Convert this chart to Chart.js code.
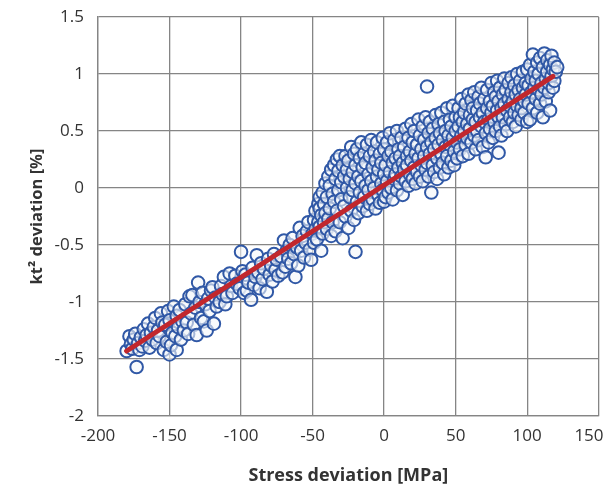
<!DOCTYPE html>
<html>
<head>
<meta charset="utf-8">
<script src="https://cdn.jsdelivr.net/npm/chart.js@4/dist/chart.umd.min.js"></script>
<style>
  html, body { margin: 0; padding: 0; background: #fff; }
  #wrap { width: 607px; height: 488px; }
</style>
</head>
<body>
<div id="wrap"><canvas id="scatterChart"></canvas></div>
<script>
// axis ranges and ticks
var xTicks = [-200, -150, -100, -50, 0, 50, 100, 150];
var yTicks = [-2, -1.5, -1, -0.5, 0, 0.5, 1, 1.5];

// measured points [stress deviation MPa, kt2 deviation %]
var samples = [
  [-180,-1.43],[-178,-1.30],[-177,-1.37],[-176,-1.41],[-175,-1.33],[-174,-1.28],[-173,-1.57],[-172,-1.36],
  [-171,-1.42],[-170,-1.31],[-169,-1.39],[-168,-1.24],[-167,-1.34],[-166,-1.29],[-165,-1.19],[-164,-1.40],
  [-163,-1.27],[-162,-1.33],[-161,-1.22],[-160,-1.14],[-159,-1.36],[-158,-1.25],[-157,-1.30],[-156,-1.10],
  [-155,-1.18],[-154,-1.42],[-153,-1.20],[-152,-1.35],[-151,-1.08],[-150,-1.46],[-150,-1.16],[-149,-1.38],
  [-148,-1.27],[-147,-1.04],[-146,-1.30],[-145,-1.12],[-145,-1.42],[-144,-1.22],[-143,-1.07],[-142,-1.33],
  [-141,-1.17],[-140,-1.25],
  [-139,-1.02],[-138,-1.18],[-137,-1.28],[-136,-0.95],[-135,-1.10],[-134,-0.94],[-133,-1.20],[-132,-1.05],
  [-131,-1.29],[-130,-0.83],[-129,-1.00],[-128,-1.14],[-127,-0.92],[-126,-1.17],[-125,-1.02],[-124,-1.25],
  [-123,-0.97],[-122,-1.08],[-121,-0.90],[-120,-0.87],[-119,-1.19],[-118,-0.96],[-117,-1.04],[-115,-1.00],
  [-114,-0.86],[-113,-0.93],[-112,-0.78],[-111,-1.02],[-110,-0.95],[-108,-0.75],[-107,-0.86],[-106,-0.92],
  [-104,-0.77],[-103,-0.84],[-101,-0.88],[-100,-0.56],[-99,-0.73],
  [-98,-0.92],[-97,-0.76],[-96,-0.90],[-95,-0.83],[-93,-0.98],[-92,-0.70],[-91,-0.85],[-90,-0.78],
  [-89,-0.59],[-88,-0.74],[-87,-0.88],[-86,-0.66],[-85,-0.80],[-84,-0.71],[-82,-0.91],[-81,-0.62],
  [-80,-0.76],[-79,-0.68],[-78,-0.82],[-77,-0.58],[-76,-0.72],[-75,-0.63],[-74,-0.77],[-72,-0.60],
  [-71,-0.74],[-70,-0.46],[-69,-0.69],[-68,-0.55],[-67,-0.62],[-66,-0.50],[-65,-0.66],[-64,-0.44],
  [-63,-0.58],[-62,-0.78],[-61,-0.52],[-60,-0.68],[-59,-0.35],[-58,-0.55],[-57,-0.42],[-56,-0.61],
  [-55,-0.48],[-54,-0.38],[-53,-0.30],[-52,-0.54],[-51,-0.63],[-50,-0.40],
  [-49,-0.28],[-49,-0.48],[-48,-0.20],[-48,-0.36],[-47,-0.45],[-46,-0.14],[-46,-0.30],[-45,-0.08],
  [-45,-0.34],[-45,-0.18],[-44,-0.55],[-44,-0.24],[-43,-0.04],[-43,-0.40],[-42,-0.14],[-42,-0.30],
  [-41,0.04],[-41,-0.22],[-40,-0.36],[-40,-0.08],[-39,0.10],[-39,-0.27],[-38,0.02],[-38,-0.18],
  [-37,-0.42],[-37,0.16],[-36,-0.05],[-36,-0.30],[-35,0.20],[-35,-0.12],[-34,0.08],[-34,-0.38],
  [-33,0.25],[-33,-0.20],[-32,-0.02],[-32,0.15],[-31,-0.30],[-31,0.28],[-30,-0.10],[-30,0.05],
  [-29,-0.44],[-29,0.20],[-28,-0.16],[-28,0.10],[-27,0.28],[-27,-0.25],[-26,0.00],[-26,0.16],
  [-25,-0.35],[-25,0.24],[-24,-0.08],[-24,0.08],[-23,0.36],[-23,-0.20],[-22,0.14],[-22,-0.02],
  [-21,0.30],[-21,-0.28],[-20,-0.56],[-20,0.04],[-20,0.20],
  [-19,-0.12],[-19,0.34],[-18,0.10],[-18,-0.22],[-17,0.26],[-17,-0.04],[-16,0.40],[-16,0.06],
  [-15,-0.16],[-15,0.18],[-14,0.30],[-14,-0.08],[-13,0.02],[-13,0.22],[-12,-0.20],[-12,0.38],
  [-11,0.12],[-11,-0.02],[-10,0.28],[-10,-0.14],[-9,0.06],[-9,0.42],[-8,-0.10],[-8,0.18],
  [-7,0.32],[-7,0.00],[-6,-0.18],[-6,0.24],[-5,0.10],[-5,0.40],[-4,-0.06],[-4,0.16],
  [-3,0.30],[-3,-0.13],[-2,0.04],[-2,0.22],[-1,0.44],[-1,-0.02],[0,0.12],[0,-0.12],[0,0.34],
  [1,0.20],[1,-0.08],[2,0.40],[2,0.06],[3,0.28],[3,-0.04],[4,0.14],[4,0.48],
  [5,0.00],[5,0.32],[6,0.22],[6,-0.10],[7,0.08],[7,0.42],[8,0.26],[8,0.12],
  [9,-0.02],[9,0.50],[10,0.18],[10,0.34],[11,0.04],[11,0.28],[12,0.44],[12,0.10],
  [13,0.22],[13,-0.06],[14,0.36],[14,0.16],[15,0.52],[15,0.06],[16,0.28],[16,0.20],
  [17,0.02],[17,0.44],[18,0.32],[18,0.12],[19,0.56],[19,0.24],[20,0.08],[20,0.40],
  [21,0.18],[21,0.50],[22,0.30],[22,0.04],[23,0.38],[23,0.14],[24,0.60],[24,0.26],
  [25,0.10],[25,0.46],[26,0.34],[26,0.20],[27,0.54],[27,0.06],[28,0.28],[28,0.42],
  [29,0.16],[29,0.62],[30,0.89],[30,0.36],[30,0.22],[31,0.10],[31,0.48],[32,0.30],
  [32,0.58],[33,-0.04],[33,0.40],[34,0.20],[34,0.52],[35,0.34],[35,0.14],[36,0.64],
  [36,0.44],[37,0.26],[37,0.08],[38,0.56],[38,0.38],[39,0.18],[39,0.48],[40,0.30],
  [40,0.66],[41,0.42],[41,0.22],[42,0.58],[42,0.12],[43,0.36],[43,0.50],[44,0.28],
  [44,0.70],[45,0.46],[45,0.18],[46,0.60],[46,0.38],[47,0.24],[47,0.54],[48,0.44],
  [48,0.72],[49,0.32],[49,0.20],[50,0.62],[50,0.50],
  [51,0.40],[51,0.26],[52,0.70],[52,0.54],[53,0.34],[53,0.62],[54,0.46],[54,0.78],
  [55,0.28],[55,0.58],[56,0.50],[56,0.66],[57,0.38],[57,0.74],[58,0.56],[58,0.44],
  [59,0.82],[59,0.30],[60,0.64],[60,0.52],[61,0.77],[61,0.40],[62,0.60],[62,0.70],
  [63,0.46],[63,0.84],[64,0.34],[64,0.58],[65,0.68],[65,0.50],[66,0.80],[66,0.42],
  [67,0.62],[67,0.74],[68,0.54],[68,0.88],[69,0.36],[69,0.66],[70,0.58],[70,0.78],
  [71,0.27],[71,0.48],[72,0.70],[72,0.86],[73,0.60],[73,0.40],[74,0.76],[74,0.52],
  [75,0.92],[75,0.66],[76,0.44],[76,0.72],[77,0.84],[77,0.58],[78,0.50],[78,0.80],
  [79,0.68],[79,0.94],[80,0.31],[80,0.62],[80,0.76],[81,0.54],[81,0.88],[82,0.70],
  [82,0.46],[83,0.82],[83,0.62],[84,0.96],[84,0.74],[85,0.56],[85,0.86],[86,0.68],
  [86,0.50],[87,0.78],[87,0.92],[88,0.62],[88,0.72],[89,0.97],[89,0.84],[90,0.58],
  [90,0.76],[91,0.90],[91,0.66],[92,0.82],[92,0.54],[93,1.00],[93,0.72],[94,0.86],
  [94,0.64],[95,0.78],[95,0.94],[96,0.60],[96,0.70],[97,0.88],[97,1.02],[98,0.76],
  [98,0.66],[99,0.92],[99,0.82],[100,0.58],[100,1.04],
  [101,0.74],[101,0.90],[102,0.60],[102,1.08],[103,0.84],[103,0.96],[104,1.17],[104,0.70],
  [105,0.88],[105,1.02],[106,0.78],[106,0.94],[107,1.10],[107,0.66],[108,0.86],[108,1.00],
  [109,0.74],[109,1.14],[110,0.92],[110,0.82],[111,0.62],[111,1.06],[112,1.18],[112,0.88],
  [113,0.96],[113,0.76],[114,1.12],[114,1.02],[115,0.84],[115,0.92],[116,0.68],[116,1.08],
  [117,1.16],[117,0.98],[118,0.88],[118,1.04],[119,1.10],[119,0.94],[120,1.02],[121,1.06]
];

// regression line end points
var fitX = [-180, 118];
var fitY = [-1.43, 0.98];

var textColor = '#333333';
var gridColor = '#858585';

var ctx = document.getElementById('scatterChart').getContext('2d');
var chart = new Chart(ctx, {
    type: 'scatter',
    data: {
        datasets: [{
            label: 'Fit',
            type: 'line',
            data: fitX.map(function (x, i) { return { x: x, y: fitY[i] }; }),
            borderColor: '#c1272d',
            borderWidth: 5,
            pointRadius: 0,
            borderCapStyle: 'round',
            order: 0
        }, {
            label: 'Samples',
            data: samples.map(function (p) { return { x: p[0], y: p[1] }; }),
            borderColor: '#3058a6',
            backgroundColor: 'rgba(244,246,250,0.6)',
            borderWidth: 2,
            pointRadius: 6.3,
            order: 1
        }]
    },
    options: {
        responsive: true,
        maintainAspectRatio: false,
        animation: false,
        layout: {
            padding: { left: 0, right: 6, top: 17, bottom: 0 }
        },
        plugins: {
            legend: { display: false },
            tooltip: { enabled: false }
        },
        scales: {
            x: {
                type: 'linear',
                min: -200,
                max: 150,
                afterBuildTicks: function (scale) {
                    scale.ticks = xTicks.map(function (v) { return { value: v }; });
                },
                afterFit: function (scale) {
                    scale.height = 72;
                    scale.paddingLeft = 0;
                    scale.paddingRight = 0;
                },
                ticks: {
                    color: textColor,
                    font: { family: 'Open Sans', size: 17 },
                    padding: 10,
                    maxRotation: 0,
                    callback: function (v) {
                        // last label sits inside the frame like the original
                        return v === 150 ? '150\u2007\u2007' : String(v);
                    }
                },
                grid: { color: gridColor, lineWidth: 1.3, drawTicks: false },
                border: { color: gridColor, width: 1.3 },
                title: {
                    display: true,
                    text: 'Stress deviation [MPa]',
                    color: textColor,
                    font: { family: 'Open Sans', size: 18, weight: 'bold' },
                    padding: { top: 0, bottom: 1 }
                }
            },
            y: {
                type: 'linear',
                min: -2,
                max: 1.5,
                afterBuildTicks: function (scale) {
                    scale.ticks = yTicks.map(function (v) { return { value: v }; });
                },
                afterFit: function (scale) {
                    scale.width = 98;
                    scale.paddingTop = 0;
                    scale.paddingBottom = 0;
                },
                ticks: {
                    color: textColor,
                    font: { family: 'Open Sans', size: 17 },
                    padding: 14,
                    callback: function (v) { return String(v); }
                },
                grid: { color: gridColor, lineWidth: 1.3, drawTicks: false },
                border: { color: gridColor, width: 1.3 },
                title: {
                    display: true,
                    text: 'kt² deviation [%]',
                    color: textColor,
                    font: { family: 'Open Sans', size: 16.5, weight: 'bold' },
                    padding: { top: 27, bottom: 0 }
                }
            }
        }
    }
});
</script>
</body>
</html>
